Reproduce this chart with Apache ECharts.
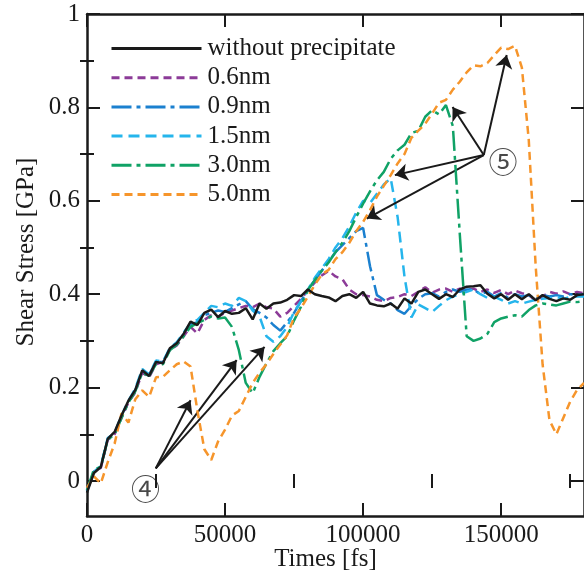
<!DOCTYPE html>
<html>
<head>
<meta charset="utf-8">
<script src="https://cdn.jsdelivr.net/npm/echarts@6/dist/echarts.min.js"></script>
<style>
html,body{margin:0;padding:0;background:#fff;}
#chart{width:584px;height:577px;}
</style>
</head>
<body>
<div id="chart"></div>
<script>
const times = [
  0, 2500, 5000, 7500, 10000, 12500, 15000, 17500, 20000, 22500,
  25000, 27500, 30000, 32500, 35000, 37500, 40000, 42500, 45000, 47500,
  50000, 52500, 55000, 57500, 60000, 62500, 65000, 67500, 70000, 72500,
  75000, 77500, 80000, 82500, 85000, 87500, 90000, 92500, 95000, 97500,
  100000, 102500, 105000, 107500, 110000, 112500, 115000, 117500, 120000, 122500,
  125000, 127500, 130000, 132500, 135000, 137500, 140000, 142500, 145000, 147500,
  150000, 152500, 155000, 157500, 160000, 162500, 165000, 167500, 170000, 172500,
  175000, 177500, 180000
];
const noPrecip = [
  -0.025, 0.017, 0.030, 0.090, 0.105, 0.140, 0.172, 0.195, 0.237, 0.225,
  0.255, 0.252, 0.284, 0.295, 0.315, 0.341, 0.334, 0.360, 0.367, 0.351,
  0.364, 0.358, 0.360, 0.370, 0.346, 0.380, 0.369, 0.380, 0.382, 0.388,
  0.398, 0.396, 0.410, 0.400, 0.396, 0.393, 0.385, 0.396, 0.400, 0.392,
  0.405, 0.380, 0.376, 0.374, 0.380, 0.369, 0.391, 0.380, 0.405, 0.410,
  0.400, 0.390, 0.400, 0.394, 0.410, 0.416, 0.417, 0.419, 0.401, 0.391,
  0.400, 0.388, 0.400, 0.389, 0.400, 0.387, 0.398, 0.390, 0.385, 0.391,
  0.388, 0.398, 0.400
];
const nm06 = [
  -0.020, 0.020, 0.028, 0.088, 0.100, 0.135, 0.168, 0.190, 0.232, 0.222,
  0.250, 0.255, 0.280, 0.290, 0.310, 0.330, 0.316, 0.345, 0.355, 0.352,
  0.360, 0.365, 0.370, 0.375, 0.372, 0.380, 0.372, 0.369, 0.352, 0.360,
  0.375, 0.390, 0.408, 0.425, 0.440, 0.450, 0.438, 0.432, 0.410, 0.400,
  0.398, 0.395, 0.388, 0.385, 0.392, 0.394, 0.400, 0.396, 0.405, 0.415,
  0.403, 0.410, 0.412, 0.405, 0.412, 0.408, 0.412, 0.405, 0.410, 0.403,
  0.409, 0.400, 0.408, 0.402, 0.398, 0.386, 0.395, 0.405, 0.401, 0.406,
  0.400, 0.405, 0.402
];
const nm09 = [
  -0.022, 0.020, 0.030, 0.090, 0.102, 0.138, 0.170, 0.195, 0.235, 0.228,
  0.255, 0.255, 0.282, 0.295, 0.315, 0.335, 0.340, 0.355, 0.360, 0.365,
  0.362, 0.370, 0.378, 0.385, 0.368, 0.360, 0.350, 0.334, 0.322, 0.340,
  0.360, 0.385, 0.410, 0.430, 0.450, 0.470, 0.490, 0.505, 0.520, 0.535,
  0.542, 0.460, 0.398, 0.388, 0.380, 0.366, 0.358, 0.375, 0.390, 0.400,
  0.402, 0.395, 0.405, 0.410, 0.405, 0.410, 0.410, 0.400, 0.405, 0.395,
  0.402, 0.392, 0.400, 0.395, 0.398, 0.390, 0.398, 0.395, 0.398, 0.395,
  0.400, 0.398, 0.400
];
const nm15 = [
  -0.020, 0.020, 0.032, 0.092, 0.103, 0.140, 0.172, 0.198, 0.240, 0.228,
  0.258, 0.256, 0.285, 0.297, 0.318, 0.338, 0.345, 0.360, 0.375, 0.372,
  0.380, 0.375, 0.392, 0.385, 0.365, 0.352, 0.310, 0.298, 0.310, 0.330,
  0.362, 0.385, 0.410, 0.435, 0.455, 0.475, 0.500, 0.520, 0.545, 0.575,
  0.600, 0.595, 0.615, 0.635, 0.648, 0.565, 0.437, 0.350, 0.378, 0.370,
  0.362, 0.375, 0.387, 0.395, 0.400, 0.405, 0.410, 0.400, 0.392, 0.395,
  0.388, 0.380, 0.385, 0.380, 0.384, 0.388, 0.390, 0.392, 0.394, 0.390,
  0.394, 0.395, 0.395
];
const nm30 = [
  -0.020, 0.025, 0.030, 0.088, 0.100, 0.135, 0.168, 0.192, 0.232, 0.225,
  0.250, 0.250, 0.280, 0.292, 0.310, 0.330, 0.338, 0.345, 0.352, 0.348,
  0.350, 0.330, 0.280, 0.210, 0.188, 0.223, 0.252, 0.278, 0.295, 0.310,
  0.344, 0.373, 0.409, 0.430, 0.450, 0.468, 0.490, 0.510, 0.535, 0.565,
  0.594, 0.620, 0.644, 0.662, 0.690, 0.708, 0.720, 0.745, 0.750, 0.780,
  0.794, 0.785, 0.805, 0.760, 0.530, 0.310, 0.300, 0.305, 0.315, 0.340,
  0.348, 0.352, 0.355, 0.352, 0.366, 0.376, 0.380, 0.378, 0.376, 0.380,
  0.384, 0.383, 0.385
];
const nm50 = [
  -0.015, 0.010, -0.005, 0.040, 0.080, 0.145, 0.125, 0.175, 0.194, 0.180,
  0.222, 0.223, 0.237, 0.250, 0.256, 0.245, 0.150, 0.068, 0.045, 0.085,
  0.110, 0.140, 0.150, 0.180, 0.210, 0.232, 0.250, 0.272, 0.292, 0.312,
  0.350, 0.370, 0.395, 0.420, 0.442, 0.452, 0.475, 0.490, 0.510, 0.535,
  0.555, 0.580, 0.609, 0.632, 0.655, 0.680, 0.700, 0.735, 0.750, 0.765,
  0.787, 0.810, 0.816, 0.838, 0.855, 0.875, 0.890, 0.888, 0.895, 0.912,
  0.928, 0.925, 0.932, 0.885, 0.730, 0.460, 0.250, 0.130, 0.100, 0.135,
  0.170, 0.195, 0.210
];
const seriesNames = ['without precipitate', '0.6nm', '0.9nm', '1.5nm', '3.0nm', '5.0nm'];
const xMajorTicks = [0, 50000, 100000, 150000];
const xMinorTicks = [25000, 75000, 125000, 175000];
const yMajorTicks = [0, 0.2, 0.4, 0.6, 0.8, 1];
const yMinorTicks = [0.1, 0.3, 0.5, 0.7, 0.9];
// annotation anchors (data coords)
const label4 = [21200, -0.017];
const label5 = [150700, 0.684];
const arrows4From = [24900, 0.027];
const arrows4To = [[37500, 0.173], [54200, 0.259], [64300, 0.287]];
const arrows5From = [143700, 0.698];
const arrows5To = [[152000, 0.912], [132400, 0.801], [111500, 0.655], [101300, 0.562]];

const FONT = '"Liberation Serif", "Times New Roman", serif';
const INK = '#1a1a1a';
const FS = 25;
const pairs = arr => times.map((t, i) => [t, arr[i]]);

const chart = echarts.init(document.getElementById('chart'), null, {renderer: 'canvas'});

const xBase = {
  type: 'value', min: 0, max: 180000, gridIndex: 0,
  splitLine: {show: false}
};
const yBase = {
  type: 'value', min: -0.075, max: 1, gridIndex: 0,
  splitLine: {show: false}
};

function lineSeries(name, data, color, type, z) {
  return {
    name, type: 'line', data: pairs(data), xAxisIndex: 0, yAxisIndex: 0,
    showSymbol: false, symbol: 'none', smooth: false, z,
    lineStyle: {color, width: 2.5, type},
    itemStyle: {color},
    emphasis: {disabled: true}
  };
}

const arrowLines = [];
arrows4To.forEach(p => arrowLines.push([{coord: arrows4From}, {coord: p}]));
arrows5To.forEach(p => arrowLines.push([{coord: arrows5From}, {coord: p}]));

const option = {
  animation: false,
  backgroundColor: '#fff',
  grid: {left: 87, top: 14, width: 503, height: 502, containLabel: false},
  legend: {
    data: seriesNames,
    orient: 'vertical',
    left: 105, top: 31,
    itemWidth: 90, itemHeight: 25, itemGap: 4.2,
    itemStyle: {opacity: 0, borderWidth: 0},
    lineStyle: {width: 3},
    textStyle: {fontFamily: FONT, fontSize: FS, color: INK, padding: [0, 0, 0, 1]},
    selectedMode: false
  },
  xAxis: [
    Object.assign({}, xBase, {
      position: 'bottom',
      name: 'Times [fs]', nameLocation: 'middle', nameGap: 31,
      nameMoveOverlap: false,
      nameTextStyle: {fontFamily: FONT, fontSize: FS, color: INK, padding: [0, 20, 0, 0]},
      axisLine: {show: true, onZero: false, lineStyle: {color: INK, width: 2.5}},
      axisTick: {show: true, inside: true, length: 13, lineStyle: {color: INK, width: 2}, customValues: xMajorTicks},
      axisLabel: {show: true, customValues: xMajorTicks, margin: 7, fontFamily: FONT, fontSize: FS, color: INK, formatter: v => String(v)}
    }),
    Object.assign({}, xBase, {
      position: 'bottom',
      axisLine: {show: false},
      axisTick: {show: true, inside: true, length: 7, lineStyle: {color: INK, width: 2}, customValues: xMinorTicks},
      axisLabel: {show: false}
    }),
    Object.assign({}, xBase, {
      position: 'top',
      axisLine: {show: true, onZero: false, lineStyle: {color: INK, width: 2.5}},
      axisTick: {show: true, inside: true, length: 13, lineStyle: {color: INK, width: 2}, customValues: xMajorTicks},
      axisLabel: {show: false}
    }),
    Object.assign({}, xBase, {
      position: 'top',
      axisLine: {show: false},
      axisTick: {show: true, inside: true, length: 7, lineStyle: {color: INK, width: 2}, customValues: xMinorTicks},
      axisLabel: {show: false}
    })
  ],
  yAxis: [
    Object.assign({}, yBase, {
      position: 'left',
      name: 'Shear Stress [GPa]', nameLocation: 'middle', nameGap: 48,
      nameMoveOverlap: false,
      nameTextStyle: {fontFamily: FONT, fontSize: FS, color: INK, padding: [0, 0, 0, 26]},
      axisLine: {show: true, onZero: false, lineStyle: {color: INK, width: 2.5}},
      axisTick: {show: true, inside: true, length: 13, lineStyle: {color: INK, width: 2}, customValues: yMajorTicks},
      axisLabel: {show: true, customValues: yMajorTicks, margin: 7, fontFamily: FONT, fontSize: FS, color: INK}
    }),
    Object.assign({}, yBase, {
      position: 'left',
      axisLine: {show: false},
      axisTick: {show: true, inside: true, length: 7, lineStyle: {color: INK, width: 2}, customValues: yMinorTicks},
      axisLabel: {show: false}
    }),
    Object.assign({}, yBase, {
      position: 'right',
      axisLine: {show: true, onZero: false, lineStyle: {color: INK, width: 2.5}},
      axisTick: {show: true, inside: true, length: 13, lineStyle: {color: INK, width: 2}, customValues: yMajorTicks},
      axisLabel: {show: false}
    }),
    Object.assign({}, yBase, {
      position: 'right',
      axisLine: {show: false},
      axisTick: {show: true, inside: true, length: 7, lineStyle: {color: INK, width: 2}, customValues: yMinorTicks},
      axisLabel: {show: false}
    })
  ],
  series: [
    lineSeries('0.6nm', nm06, '#8c3b98', [8, 5], 2),
    lineSeries('0.9nm', nm09, '#1b80cf', [20, 5, 4, 5], 3),
    lineSeries('1.5nm', nm15, '#25b5ec', [11, 6], 4),
    lineSeries('3.0nm', nm30, '#10a266', [20, 5, 4, 5], 5),
    lineSeries('5.0nm', nm50, '#f6952b', [8, 5], 6),
    lineSeries('without precipitate', noPrecip, INK, 'solid', 7),
    {
      name: 'annotations', type: 'scatter', xAxisIndex: 0, yAxisIndex: 0,
      symbolSize: 1, itemStyle: {color: 'rgba(0,0,0,0)'}, z: 10, silent: true,
      data: [
        {value: label4, label: {formatter: '④'}},
        {value: label5, label: {formatter: '⑤'}}
      ],
      label: {show: true, position: 'inside', fontFamily: '"Noto Sans CJK JP", "DejaVu Sans", sans-serif', fontSize: 29, color: INK},
      markLine: {
        silent: true, animation: false,
        symbol: ['none', 'arrow'], symbolSize: 13,
        label: {show: false},
        lineStyle: {color: INK, width: 2, type: 'solid'},
        emphasis: {disabled: true},
        data: arrowLines
      }
    }
  ]
};
chart.setOption(option);
</script>
</body>
</html>
